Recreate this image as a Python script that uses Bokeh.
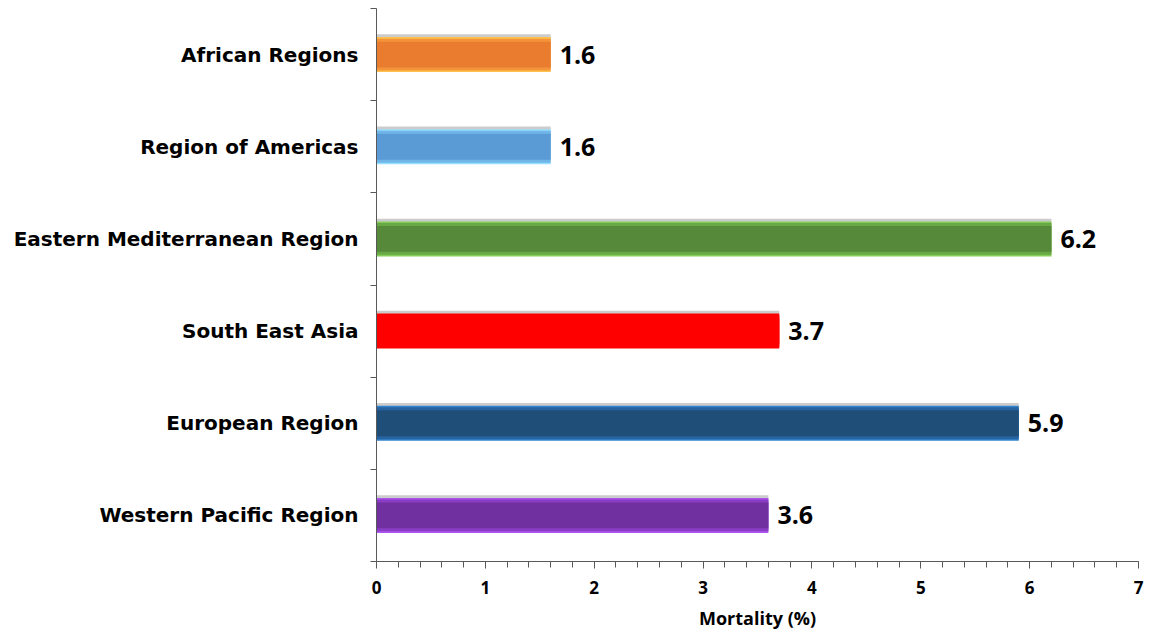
from bokeh.plotting import figure
from bokeh.models import ColumnDataSource, FixedTicker, Range1d
from bokeh.core.properties import value
from bokeh.embed import file_html
from bokeh.resources import INLINE

# ---- data ----
regions = ["African Regions", "Region of Americas", "Eastern Mediterranean Region",
           "South East Asia", "European Region", "Western Pacific Region"]
mortality = [1.6, 1.6, 6.2, 3.7, 5.9, 3.6]
main_colors = ["#E97C2E", "#5B9BD5", "#568939", "#FF0000", "#1F4E79", "#7030A0"]
mid_colors = ["#F4943A", "#6FB5E8", "#68A845", "#FF0000", "#2763A0", "#8A3CC4"]
light_colors = ["#FFC04E", "#94DEFF", "#84CC58", "#FF0000", "#3383CC", "#AC55EE"]
x_ticks = [0, 1, 2, 3, 4, 5, 6, 7]
x_label = "Mortality (%)"

n = len(regions)
ypos = [n - 0.5 - i for i in range(n)]
bar_h = 0.38

src = ColumnDataSource(dict(
    y=ypos, v=mortality, c=main_colors, mc=mid_colors, lc=light_colors,
    lbl=[f"{m:.1f}" for m in mortality],
    ys=[y + 0.03 for y in ypos],
))

p = figure(width=1151, height=634, x_range=Range1d(0, 7), y_range=Range1d(0, n),
           output_backend="svg", toolbar_location=None,
           min_border_left=376, min_border_right=13, min_border_top=8, min_border_bottom=73)
p.outline_line_color = None
p.xgrid.grid_line_color = None
p.ygrid.grid_line_color = None
p.background_fill_color = "white"
p.border_fill_color = "white"

# shadow
p.hbar(y="ys", right="v", left=0, height=bar_h, source=src,
       fill_color="#9A9A9A", fill_alpha=0.5, line_color=None)
# layered bar to imitate a bevel gradient
p.hbar(y="y", right="v", left=0, height=bar_h, source=src,
       fill_color="lc", line_color=None)
p.hbar(y="y", right="v", left=0, height=bar_h - 0.035, source=src,
       fill_color="mc", line_color=None)
p.hbar(y="y", right="v", left=0, height=bar_h - 0.1, source=src,
       fill_color="c", line_color=None)

# value labels
p.text(x="v", y="y", text="lbl", source=src, x_offset=9,
       text_baseline="middle", text_align="left",
       text_font=value("Open Sans"), text_font_style="bold",
       text_font_size="25px", text_color="black")

# y axis
ya = p.yaxis[0]
ya.ticker = FixedTicker(ticks=ypos, minor_ticks=list(range(n + 1)))
ya.major_label_overrides = {y: r for y, r in zip(ypos, regions)}
ya.major_tick_line_color = None
ya.major_tick_out = 0
ya.major_tick_in = 0
ya.minor_tick_out = 6
ya.minor_tick_in = 0
ya.minor_tick_line_color = "#595959"
ya.axis_line_color = "#595959"
ya.major_label_standoff = 12
ya.major_label_text_font = "DejaVu Sans"
ya.major_label_text_font_style = "bold"
ya.major_label_text_font_size = "20px"
ya.major_label_text_color = "black"

# x axis
xa = p.xaxis[0]
xa.ticker = FixedTicker(ticks=x_ticks, minor_ticks=[i * 0.2 for i in range(36)])
xa.major_tick_out = 7
xa.major_tick_in = 0
xa.minor_tick_out = 6
xa.minor_tick_in = 0
xa.axis_line_color = "#595959"
xa.major_tick_line_color = "#595959"
xa.minor_tick_line_color = "#595959"
xa.major_label_standoff = 12
xa.major_label_text_font = "Open Sans"
xa.major_label_text_font_style = "bold"
xa.major_label_text_font_size = "17px"
xa.major_label_text_color = "black"
xa.axis_label = x_label
xa.axis_label_standoff = 9
xa.axis_label_text_font = "Open Sans"
xa.axis_label_text_font_style = "bold"
xa.axis_label_text_font_size = "18px"
xa.axis_label_text_color = "black"

open("out.html", "w").write(file_html(p, INLINE))
